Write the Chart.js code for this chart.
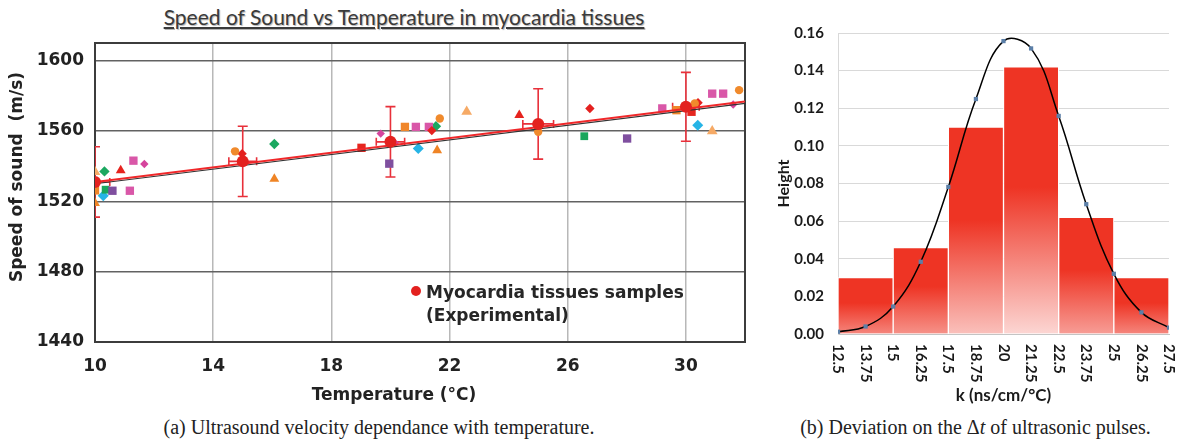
<!DOCTYPE html>
<html>
<head>
<meta charset="utf-8">
<script src="https://cdn.jsdelivr.net/npm/chart.js@4.4.1/dist/chart.umd.min.js"></script>
<style>
  body { margin: 0; width: 1177px; height: 443px; background: #fff; position: relative; overflow: hidden; }
  #speedChart { position: absolute; left: 0; top: 0; }
  #histChart { position: absolute; left: 770px; top: 0; }
  .title { position: absolute; left: 0; width: 808px; top: 4px; text-align: center; font: 21px Lato, sans-serif; color: #3a3a3a; text-decoration: underline; text-shadow: 1px 1px 1px #b5b5b5; }
  .cap { position: absolute; top: 416px; font: 20px "Liberation Serif", serif; color: #222; text-align: center; white-space: nowrap; }
</style>
</head>
<body>
<div class="title">Speed of Sound vs Temperature in myocardia tissues</div>
<canvas id="speedChart" width="760" height="410"></canvas>
<canvas id="histChart" width="407" height="410"></canvas>
<div class="cap" style="left:0;width:758px">(a) Ultrasound velocity dependance with temperature.</div>
<div class="cap" style="left:780px;width:391px">(b) Deviation on the Δ<i>t</i> of ultrasonic pulses.</div>

<script>
// ---------- (a) speed of sound vs temperature ----------

const tempTicks = [10, 14, 18, 22, 26, 30]
const speedTicks = [1440, 1480, 1520, 1560, 1600]

// averaged samples with error bars
const meanTemp = [10, 15, 20, 25, 30]
const meanSpeed = [1531, 1542.7, 1553.8, 1564, 1573.7]
const errSpeed = [20, 20, 20, 20, 19.6]
const errTemp = [0.5, 0.47, 0.48, 0.52, 0.45]

// linear fits (two overlapping lines)
const fitRed = [[10, 1531.0], [32, 1576.7]]
const fitBlack = [[10, 1530.0], [32, 1575.7]]

// individual measurements [temperature, speed]
const orangeCircles = [[14.74, 1548.4], [21.67, 1567.1], [25.0, 1559.5], [30.3, 1575.6], [31.8, 1583.2]]
const orangeSquares = [[10.0, 1526.2], [20.49, 1562.3], [29.68, 1571.8]]
const orangeTriangles = [[10.0, 1519.0], [16.07, 1532.7], [21.58, 1549.0]]
const peachTriangles = [[10.0, 1536.7], [22.58, 1570.9], [30.89, 1559.9]]
const redTriangles = [[10.87, 1537.6], [24.36, 1569.0]]
const redSquares = [[19.02, 1550.4], [30.19, 1570.9]]
const redDiamonds = [[14.98, 1547.1], [21.4, 1560.2], [26.75, 1572.8], [30.41, 1576.0]]
const pinkSquares = [[11.3, 1543.1], [11.18, 1526.0], [20.86, 1562.3], [21.3, 1562.3], [29.2, 1572.8], [30.89, 1581.2], [31.26, 1581.2]]
const pinkDiamonds = [[11.67, 1541.2], [19.67, 1558.5], [20.15, 1553.2], [31.6, 1575.0]]
const purpleSquares = [[10.59, 1526.0], [19.96, 1541.4], [28.01, 1555.7]]
const greenDiamonds = [[10.32, 1537.0], [16.07, 1552.6], [21.54, 1562.7]]
const greenSquares = [[10.36, 1526.6], [26.56, 1557.0]]
const cyanDiamonds = [[10.28, 1523.1], [20.94, 1550.0], [30.4, 1563.3]]

const legendLines = ['Myocardia tissues samples', '(Experimental)']
const xTitleA = 'Temperature (°C)'
const yTitleA = 'Speed of sound  (m/s)'

const meanColor = '#e3211f'
const boldA = { family: 'DejaVu Sans', size: 17, weight: 'bold' }
const pts = arr => arr.map(([x, y]) => ({ x, y }))

const markerGroups = [
    [orangeCircles, '#f08a2c', 'circle', 4.2],
    [orangeSquares, '#f0862a', 'rect', 5.9],
    [orangeTriangles, '#ef8425', 'triangle', 5.7],
    [peachTriangles, '#f6aa66', 'triangle', 6.2],
    [redTriangles, '#e6231e', 'triangle', 5.7],
    [redSquares, '#e5261f', 'rect', 5.9],
    [redDiamonds, '#e4211f', 'rectRot', 4.7],
    [pinkSquares, '#d957a8', 'rect', 5.9],
    [pinkDiamonds, '#d6449d', 'rectRot', 4.2],
    [purpleSquares, '#7f4f9f', 'rect', 5.9],
    [greenDiamonds, '#1ba860', 'rectRot', 5.2],
    [greenSquares, '#1aa65c', 'rect', 5.5],
    [cyanDiamonds, '#26b4e6', 'rectRot', 5.5]
]

const boxPlugin = {
    id: 'boxPlugin',
    beforeDatasetsDraw(chart) {
        const { ctx, chartArea: a, scales: { x, y } } = chart
        ctx.save()
        ctx.strokeStyle = '#3c3c3c'
        ctx.lineWidth = 2
        ctx.strokeRect(a.left, a.top, a.right - a.left, a.bottom - a.top)

        // error bars
        ctx.beginPath()
        ctx.rect(a.left, a.top, a.right - a.left, a.bottom - a.top)
        ctx.clip()
        ctx.strokeStyle = '#e8303a'
        ctx.lineWidth = 1.6
        meanTemp.forEach((t, i) => {
            const px = x.getPixelForValue(t)
            const py = y.getPixelForValue(meanSpeed[i])
            const top = y.getPixelForValue(meanSpeed[i] + errSpeed[i])
            const bot = y.getPixelForValue(meanSpeed[i] - errSpeed[i])
            const l = x.getPixelForValue(t - errTemp[i])
            const r = x.getPixelForValue(t + errTemp[i])
            ctx.beginPath()
            ctx.moveTo(px, top); ctx.lineTo(px, bot)
            ctx.moveTo(px - 5, top); ctx.lineTo(px + 5, top)
            ctx.moveTo(px - 5, bot); ctx.lineTo(px + 5, bot)
            ctx.moveTo(l, py); ctx.lineTo(r, py)
            ctx.moveTo(l, py - 4); ctx.lineTo(l, py + 4)
            ctx.moveTo(r, py - 4); ctx.lineTo(r, py + 4)
            ctx.stroke()
        })
        ctx.restore()
    },
    afterDraw(chart) {
        const { ctx, chartArea: a } = chart
        ctx.save()
        ctx.fillStyle = '#222'
        ctx.font = 'bold 17px "DejaVu Sans"'
        ctx.textAlign = 'center'
        ctx.textBaseline = 'middle'
        // axis titles (sit off-centre in the original)
        ctx.fillText(xTitleA, a.left + 299, a.bottom + 54)
        ctx.save()
        ctx.translate(18, a.top + 134)
        ctx.rotate(-Math.PI / 2)
        ctx.fillText(yTitleA, 0, 0)
        ctx.restore()

        // legend
        const lx = a.left + 321, ly = a.top + 248
        ctx.fillStyle = meanColor
        ctx.beginPath()
        ctx.arc(lx, ly, 5, 0, Math.PI * 2)
        ctx.fill()
        ctx.fillStyle = '#262626'
        ctx.textAlign = 'left'
        legendLines.forEach((s, i) => ctx.fillText(s, lx + 10, ly + 3 + i * 23))
        ctx.restore()
    }
}

new Chart(document.getElementById('speedChart'), {
    type: 'scatter',
    data: {
        datasets: [
            {
                label: legendLines.join(' '),
                data: meanTemp.map((t, i) => ({ x: t, y: meanSpeed[i] })),
                backgroundColor: meanColor, borderColor: meanColor,
                pointRadius: 6, pointBorderWidth: 0
            },
            {
                data: pts(fitRed), showLine: true, pointRadius: 0,
                borderColor: '#f0282a', borderWidth: 2
            },
            {
                data: pts(fitBlack), showLine: true, pointRadius: 0,
                borderColor: '#333', borderWidth: 1.1
            },
            ...markerGroups.map(([arr, color, style, r]) => ({
                data: pts(arr),
                backgroundColor: color, borderColor: color,
                pointStyle: style, pointRadius: r, pointBorderWidth: 0
            }))
        ]
    },
    options: {
        responsive: false,
        animation: false,
        layout: { padding: { top: 43, right: 15, left: 0, bottom: 0 } },
        plugins: { legend: { display: false }, tooltip: { enabled: false } },
        scales: {
            x: {
                type: 'linear', min: 10, max: 32,
                afterBuildTicks: s => { s.ticks = tempTicks.map(v => ({ value: v })) },
                afterFit: s => { s.height = 68 },
                grid: { color: '#b8b8b8', lineWidth: 1.5, drawTicks: false },
                border: { display: false },
                ticks: { font: boldA, color: '#222', padding: 14, callback: v => String(v) }
            },
            y: {
                min: 1440, max: 1610,
                afterBuildTicks: s => { s.ticks = speedTicks.map(v => ({ value: v })) },
                afterFit: s => { s.width = 95 },
                grid: { color: '#626262', lineWidth: 1.5, drawTicks: false },
                border: { display: false },
                ticks: { font: boldA, color: '#222', padding: 11, callback: v => String(v) }
            }
        }
    },
    plugins: [boxPlugin]
})

// ---------- (b) histogram of k with fitted curve ----------

const binLabels = ['12.5-15', '15-17.5', '17.5-20', '20-22.5', '22.5-25', '25-27.5']
const binHeights = [0.030, 0.046, 0.110, 0.142, 0.062, 0.030]
const kValues = [12.5, 13.75, 15, 16.25, 17.5, 18.75, 20, 21.25, 22.5, 23.75, 25, 26.25, 27.5]
const kTickLabels = ['12.5', '13.75', '15', '16.25', '17.5', '18.75', '20', '21.25', '22.5', '23.75', '25', '26.25', '27.5']
const fitHeights = [0.0012, 0.004, 0.0146, 0.0384, 0.0782, 0.1249, 0.1557, 0.1518, 0.1159, 0.069, 0.032, 0.0115, 0.0034]
const heightTicks = [0, 0.02, 0.04, 0.06, 0.08, 0.10, 0.12, 0.14, 0.16]

const barRed = [238, 52, 36]
const boldB = size => ({ family: 'Lato', size, weight: 'bold' })
const rgb = c => `rgb(${c.map(Math.round).join(',')})`

function barFill(c) {
    const chart = c.chart
    if (!chart.chartArea || c.type !== 'data') return rgb(barRed)
    const y = chart.scales.y
    const top = y.getPixelForValue(c.raw)
    const base = y.getPixelForValue(0)
    const f = 0.3 + 0.5 * c.raw / Math.max(...binHeights)
    const light = barRed.map(v => v + (255 - v) * f)
    const g = chart.ctx.createLinearGradient(0, top, 0, base)
    g.addColorStop(0, rgb(barRed))
    g.addColorStop(0.45, rgb(barRed))
    g.addColorStop(1, rgb(light))
    return g
}

const rotatedTicks = {
    id: 'rotatedTicks',
    afterDraw(chart) {
        const { ctx, chartArea: a, scales: { x } } = chart
        ctx.save()
        ctx.font = 'bold 15px Lato'
        ctx.fillStyle = '#1a1a1a'
        ctx.textBaseline = 'middle'
        ctx.textAlign = 'left'
        kValues.forEach((v, i) => {
            ctx.save()
            ctx.translate(x.getPixelForValue(v), a.bottom + 10)
            ctx.rotate(Math.PI / 2)
            ctx.fillText(kTickLabels[i], 0, 0)
            ctx.restore()
        })
        ctx.restore()
    }
}

new Chart(document.getElementById('histChart'), {
    type: 'line',
    data: {
        datasets: [
            {
                xAxisID: 'x',
                data: kValues.map((k, i) => ({ x: k, y: fitHeights[i] })),
                borderColor: '#000', borderWidth: 1.5, tension: 0.4,
                pointStyle: 'rect', pointRadius: 3,
                pointBackgroundColor: '#5b7fa8', pointBorderColor: '#5b7fa8', pointBorderWidth: 0
            },
            {
                type: 'bar',
                xAxisID: 'xBar',
                data: binHeights,
                backgroundColor: barFill,
                borderColor: '#fff', borderWidth: 1,
                grouped: false,
                barPercentage: 1, categoryPercentage: 1
            }
        ]
    },
    options: {
        responsive: false,
        animation: false,
        layout: { padding: { top: 33, right: 8, left: 0, bottom: 0 } },
        plugins: { legend: { display: false }, tooltip: { enabled: false } },
        scales: {
            x: {
                type: 'linear', min: 12.5, max: 27.5, offset: false,
                afterBuildTicks: s => { s.ticks = kValues.map(v => ({ value: v })) },
                afterFit: s => { s.height = 76 },
                grid: { display: false },
                border: { display: true, color: '#c4c4c4' },
                ticks: { display: false },
                title: { display: true, text: 'k (ns/cm/°C)', font: boldB(17), color: '#1a1a1a', padding: { top: 0, bottom: 4 } }
            },
            xBar: { type: 'category', labels: binLabels, offset: true, display: false },
            y: {
                min: 0, max: 0.16,
                afterBuildTicks: s => { s.ticks = heightTicks.map(v => ({ value: v })) },
                afterFit: s => { s.width = 68 },
                grid: { color: '#d9d9d9', drawTicks: false },
                border: { display: true, color: '#d9d9d9' },
                ticks: { font: boldB(15), color: '#1a1a1a', padding: 14, callback: v => v.toFixed(2) },
                title: { display: true, text: 'Height', font: boldB(16), color: '#1a1a1a', padding: { top: 4, bottom: 0 } }
            }
        }
    },
    plugins: [rotatedTicks]
})
</script>
</body>
</html>
